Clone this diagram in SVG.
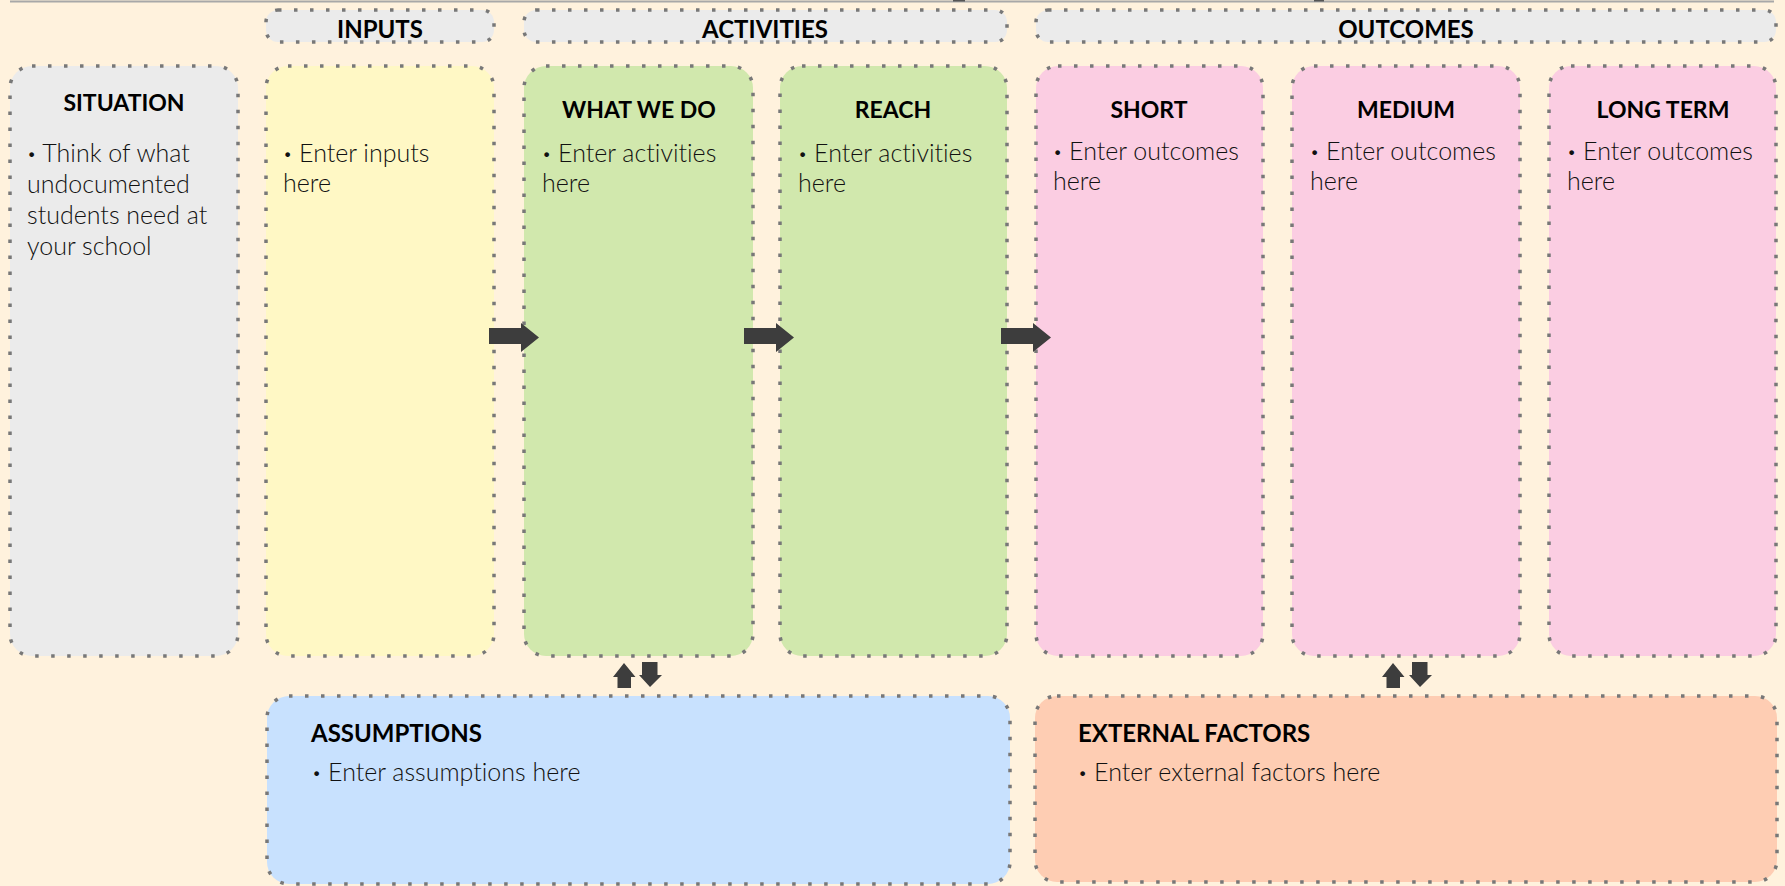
<svg xmlns="http://www.w3.org/2000/svg" width="1785" height="886" viewBox="0 0 1785 886">
  <style>
    .box { stroke: #787878; stroke-width: 3.5; stroke-dasharray: 3.5 12.5; }
    .gray { fill: #EBEBEB; }
    .yellow { fill: #FFF8C5; }
    .green { fill: #D1E8AD; }
    .pink { fill: #FBCDE2; }
    .blue { fill: #C8E1FE; }
    .orange { fill: #FECDB3; }
    text { font-variant-ligatures: none; }
    .hdr { font-family: Lato, "Liberation Sans", sans-serif; font-weight: bold; font-size: 24px; fill: #000; text-anchor: middle; }
    .title { font-family: Lato, "Liberation Sans", sans-serif; font-weight: bold; font-size: 23px; fill: #000; text-anchor: middle; }
    .btitle { font-family: Lato, "Liberation Sans", sans-serif; font-weight: bold; font-size: 24px; fill: #000; }
    .body { font-family: Lato, "Liberation Sans", sans-serif; font-weight: 300; font-size: 25px; fill: #111; }
    .b { font-size: 16px; baseline-shift: 3px; }
    .arrow { fill: #3D3D3D; }
  </style>
  <rect x="0" y="0" width="1785" height="886" fill="#FFF2DD"/>
  <line x1="10" y1="1.5" x2="1774" y2="1.5" stroke="#A8A8A8" stroke-width="2"/>
  <rect x="953" y="0" width="12" height="1.5" fill="#555"/>
  <rect x="1314" y="0" width="10" height="1.5" fill="#555"/>

  <g id="header-inputs">
    <rect class="box gray" x="266" y="10" width="228" height="32" rx="12"/>
    <text class="hdr" x="380" y="38">INPUTS</text>
  </g>
  <g id="header-activities">
    <rect class="box gray" x="524" y="10" width="483" height="32" rx="12"/>
    <text class="hdr" x="765" y="38">ACTIVITIES</text>
  </g>
  <g id="header-outcomes">
    <rect class="box gray" x="1036" y="10" width="740" height="32" rx="12"/>
    <text class="hdr" x="1406" y="38">OUTCOMES</text>
  </g>

  <g id="situation">
    <rect class="box gray" x="10" y="66" width="228" height="590" rx="22"/>
    <text class="title" x="124" y="111">SITUATION</text>
    <text class="body" x="27" y="162"><tspan class="b">•</tspan> Think of what</text>
    <text class="body" x="27" y="193">undocumented</text>
    <text class="body" x="27" y="224">students need at</text>
    <text class="body" x="27" y="255">your school</text>
  </g>
  <g id="inputs">
    <rect class="box yellow" x="266" y="66" width="228" height="590" rx="22"/>
    <text class="body" x="283" y="162"><tspan class="b">•</tspan> Enter inputs</text>
    <text class="body" x="283" y="192">here</text>
  </g>
  <g id="what-we-do">
    <rect class="box green" x="524" y="66" width="229" height="590" rx="22"/>
    <text class="title" x="639" y="118">WHAT WE DO</text>
    <text class="body" x="542" y="162"><tspan class="b">•</tspan> Enter activities</text>
    <text class="body" x="542" y="192">here</text>
  </g>
  <g id="reach">
    <rect class="box green" x="780" y="66" width="227" height="590" rx="22"/>
    <text class="title" x="893" y="118">REACH</text>
    <text class="body" x="798" y="162"><tspan class="b">•</tspan> Enter activities</text>
    <text class="body" x="798" y="192">here</text>
  </g>
  <g id="short">
    <rect class="box pink" x="1036" y="66" width="227" height="590" rx="22"/>
    <text class="title" x="1149" y="118">SHORT</text>
    <text class="body" x="1053" y="160"><tspan class="b">•</tspan> Enter outcomes</text>
    <text class="body" x="1053" y="190">here</text>
  </g>
  <g id="medium">
    <rect class="box pink" x="1292" y="66" width="228" height="590" rx="22"/>
    <text class="title" x="1406" y="118">MEDIUM</text>
    <text class="body" x="1310" y="160"><tspan class="b">•</tspan> Enter outcomes</text>
    <text class="body" x="1310" y="190">here</text>
  </g>
  <g id="long-term">
    <rect class="box pink" x="1549" y="66" width="227" height="590" rx="22"/>
    <text class="title" x="1663" y="118">LONG TERM</text>
    <text class="body" x="1567" y="160"><tspan class="b">•</tspan> Enter outcomes</text>
    <text class="body" x="1567" y="190">here</text>
  </g>
  <g id="assumptions">
    <rect class="box blue" x="267" y="696" width="743" height="188" rx="22"/>
    <text class="btitle" x="311" y="742">ASSUMPTIONS</text>
    <text class="body" x="312" y="781"><tspan class="b">•</tspan> Enter assumptions here</text>
  </g>
  <g id="external-factors">
    <rect class="box orange" x="1035" y="696" width="742" height="186" rx="22"/>
    <text class="btitle" x="1078" y="742">EXTERNAL FACTORS</text>
    <text class="body" x="1078" y="781"><tspan class="b">•</tspan> Enter external factors here</text>
  </g>

  <g id="connectors">
    <polygon class="arrow" points="489,328 521,328 521,323 539,337.5 521,352 521,344 489,344"/>
    <polygon class="arrow" points="744,328 776,328 776,323 794,337.5 776,352 776,344 744,344"/>
    <polygon class="arrow" points="1001,328 1033,328 1033,323 1051,337.5 1033,352 1033,344 1001,344"/>
    <polygon class="arrow" points="624,663 635.5,677 631,677 631,688 617.5,688 617.5,677 613,677"/>
    <polygon class="arrow" points="642,662 657.5,662 657.5,675 662,675 650,687 639,675 642,675"/>
    <polygon class="arrow" points="1393,663 1404.5,677 1400,677 1400,688 1386.5,688 1386.5,677 1382,677"/>
    <polygon class="arrow" points="1412,662 1427.5,662 1427.5,675 1432,675 1420,687 1409,675 1412,675"/>
  </g>
</svg>
